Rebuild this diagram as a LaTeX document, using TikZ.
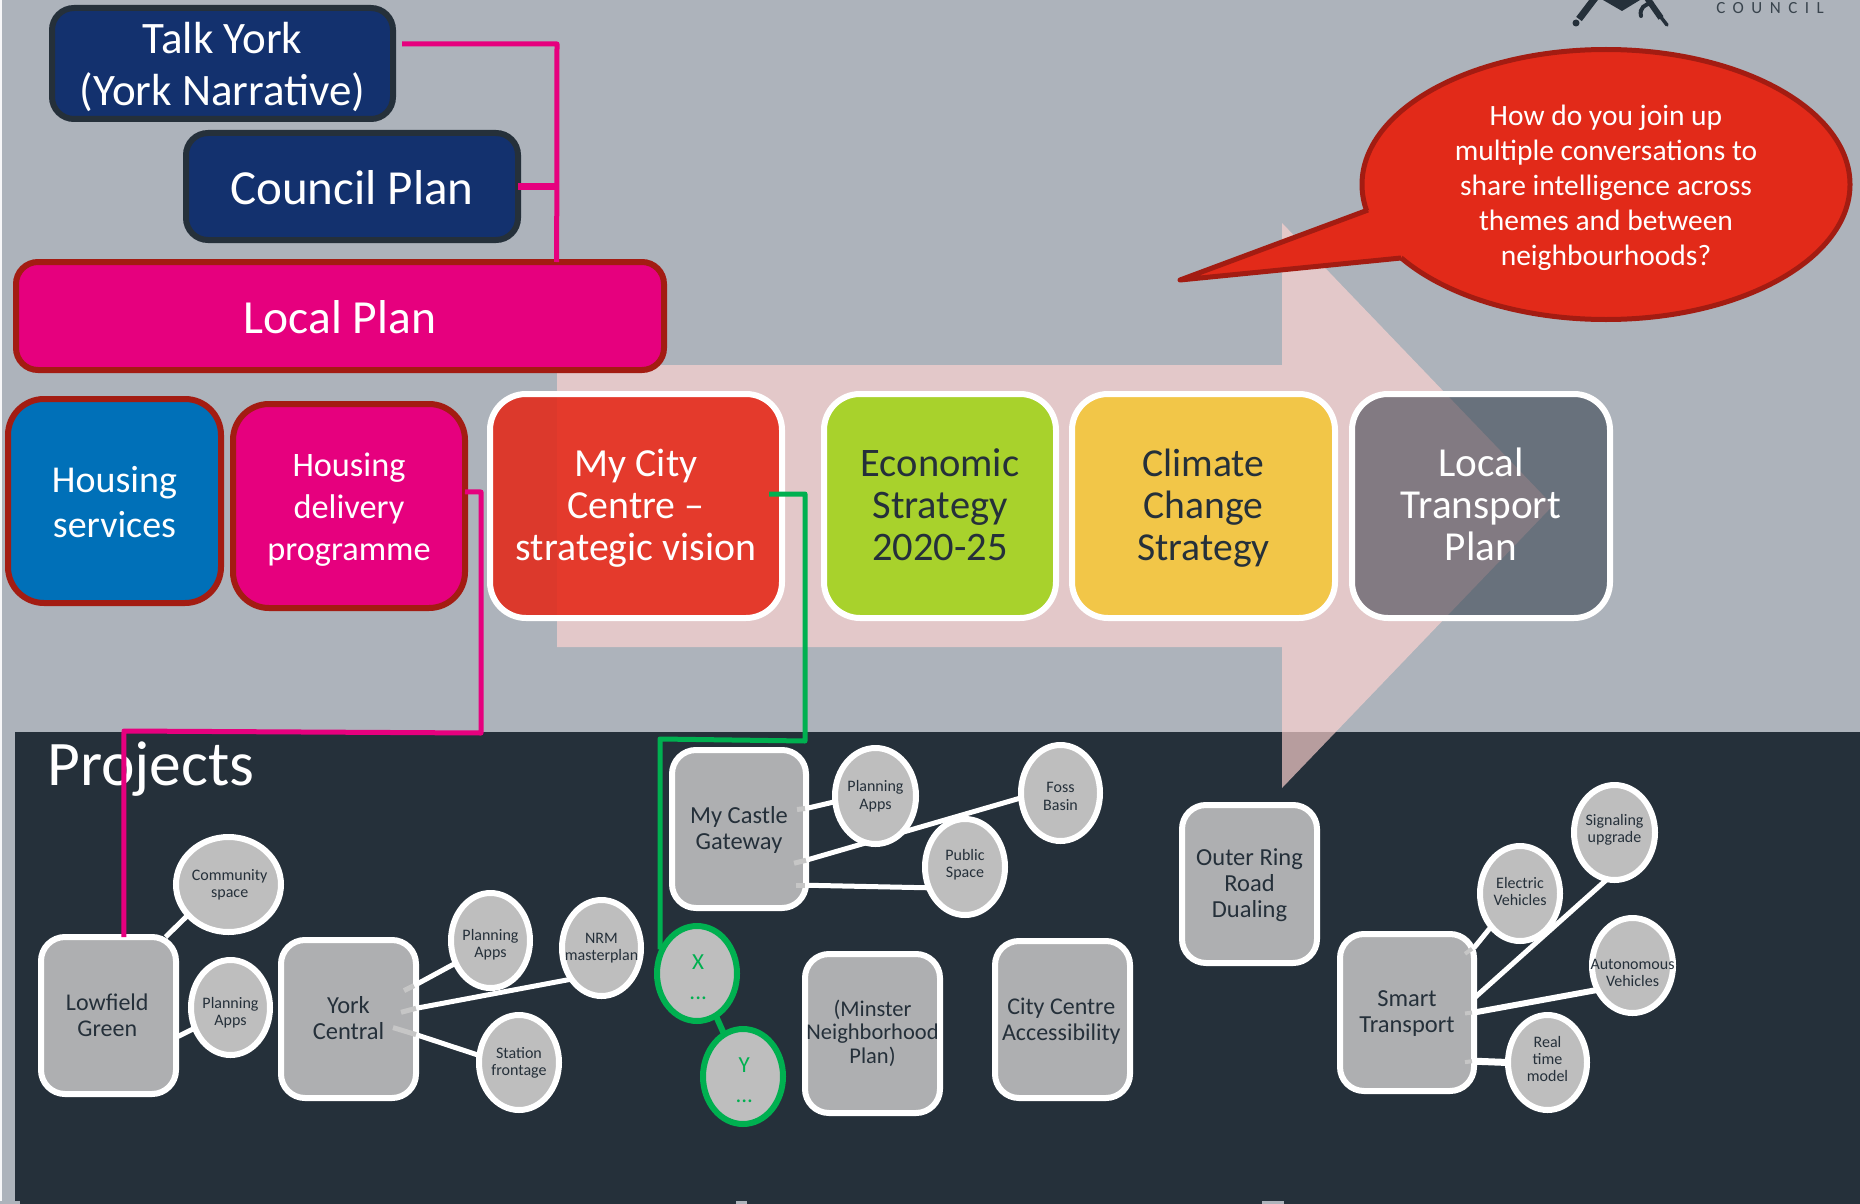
\documentclass[tikz,border=0pt]{standalone}
\usepackage{fontspec}
\usepackage{graphicx}
\setmainfont{Carlito}
\usetikzlibrary{shapes.geometric,calc}
\definecolor{slatebg}{HTML}{ADB3BB}
\definecolor{navyink}{HTML}{25303A}
\definecolor{navyfill}{HTML}{13316E}
\definecolor{magfill}{HTML}{E6007E}
\definecolor{brick}{HTML}{A31C12}
\definecolor{bluefill}{HTML}{0070B8}
\definecolor{redfill}{HTML}{E43A2C}
\definecolor{redshade}{HTML}{DC392C}
\definecolor{limefill}{HTML}{A8D22C}
\definecolor{yellowfill}{HTML}{F2C648}
\definecolor{slatefill}{HTML}{68717C}
\definecolor{slatetint}{HTML}{827A82}
\definecolor{arrowpink}{HTML}{FFD3D0}
\definecolor{boxgrey}{HTML}{AEAFB1}
\definecolor{ovalgrey}{HTML}{BEBEBE}
\definecolor{stubgrey}{HTML}{C6C6C6}
\definecolor{callred}{HTML}{E22A19}
\definecolor{linkgreen}{HTML}{00B050}
\pgfdeclarelayer{bglayer}
\pgfdeclarelayer{linklayer}
\pgfsetlayers{bglayer,linklayer,main}
\tikzset{
  base/.style={outer sep=0pt,inner sep=0pt,align=center,line width=6pt},
  bigbox/.style={base,rectangle,rounded corners=22pt,text=white},
  topbox/.style={base,rectangle,rounded corners=36pt},
  projbox/.style={base,rectangle,rounded corners=24pt,draw=white,fill=boxgrey,text=navyink,font=\fontsize{24.5}{26}\selectfont},
  oval/.style={base,ellipse,draw=white,fill=ovalgrey,text=navyink,font=\fontsize{16}{17.3}\selectfont},
  greenoval/.style={base,ellipse,draw=linkgreen,fill=ovalgrey,text=linkgreen,font=\fontsize{23}{29.5}\selectfont},
  wlink/.style={draw=white,line width=5pt},
  stub/.style={draw=stubgrey,line width=5pt},
  pinklink/.style={draw=magfill,line width=5pt,line join=round},
  greenlink/.style={draw=linkgreen,line width=5pt,line join=round},
}
\newcommand{\bx}[7]{\node[#1,minimum width={(#5-#3-6)*1pt},minimum height={(#6-#4-6)*1pt}] (#2) at ({(#3+#5)/2},{(#4+#6)/2}) {#7};}
% zero-size centred text block, moved down by the optional amount (pt)
\newcommand{\zc}[2][0]{\raisebox{\dimexpr-.25em-#1pt\relax}[0pt][0pt]{\makebox[0pt][c]{\begin{tabular}[c]{@{}c@{}}#2\end{tabular}}}}
\begin{document}
\begin{tikzpicture}[x=1pt,y=-1pt]
\useasboundingbox (0,0) rectangle (1860,1204);
\begin{pgfonlayer}{bglayer}
  \fill[slatebg] (0,0) rectangle (1860,1204);
  \fill[white!90!slatebg] (0,0) rectangle (2,1204);
  \fill[navyink] (15,732) rectangle (1860,1204);
  \fill[slatebg] (0,1201) rectangle (20,1204);
  \fill[slatebg] (736,1201) rectangle (747,1204);
  \fill[slatebg] (1262,1201) rectangle (1284,1204);
  \fill[arrowpink,opacity=.67] (557,365) -- (1282,365) -- (1282,223) -- (1553,505.5) -- (1282,788) -- (1282,647) -- (557,647) -- cycle;
  \fill[redfill,rounded corners=36pt] (490,394) rectangle (782,618);
  \begin{scope}
    \clip[rounded corners=36pt] (490,394) rectangle (782,618);
    \fill[redshade] (490,394) rectangle (557,618);
  \end{scope}
  \fill[slatefill,rounded corners=36pt] (1352,394) rectangle (1610,618);
  \begin{scope}
    \clip[rounded corners=36pt] (1352,394) rectangle (1610,618);
    \fill[slatetint] (1282,223) -- (1553,505.5) -- (1282,788) -- cycle;
  \end{scope}
\end{pgfonlayer}

% logo fragment
\fill[navyink] (1603,0) -- (1622,11) -- (1640,0) -- cycle;
\draw[navyink,line width=7pt] (1579,19) -- (1595,-2);
\fill[navyink] (1576,23) circle (3.5pt);
\draw[navyink,line width=6pt] (1647,-2) -- (1661,18);
\draw[navyink,line width=3.5pt,line cap=round] (1660,16) -- (1667,25);
\draw[navyink,line width=4pt,line cap=round] (1652,3) .. controls (1645,4) and (1639,8) .. (1641,16);

\node[inner sep=0pt,text=navyink!85!slatebg,font=\fontsize{17}{17}\selectfont\addfontfeature{LetterSpace=44}] (council) at (1770,8) {COUNCIL};

% plans
\bx{bigbox,draw=navyink,fill=navyfill,font=\fontsize{45}{52}\selectfont}{ty}{49}{5}{396}{122}{\zc[1]{Talk York\\(York Narrative)}}
\bx{bigbox,draw=navyink,fill=navyfill,font=\fontsize{49}{52}\selectfont}{cp}{183}{130}{521}{243}{\zc[2]{Council Plan}}
\bx{bigbox,draw=brick,fill=magfill,font=\fontsize{47.5}{52}\selectfont}{lp}{13}{259}{667}{373}{\zc[1]{Local Plan}}

% strategies
\bx{topbox,draw=brick,fill=bluefill,text=white,font=\fontsize{38}{45}\selectfont}{hs}{5}{396}{224}{606}{\zc[2]{Housing\\services}}
\bx{topbox,draw=brick,fill=magfill,text=white,font=\fontsize{34.3}{42}\selectfont}{hd}{230}{401}{468}{611}{\zc[2]{Housing\\delivery\\programme}}
\bx{topbox,draw=white,text=white,font=\fontsize{39.8}{42}\selectfont}{mc}{487}{391}{785}{621}{\zc[0.5]{My City\\Centre --\\strategic vision}}
\bx{topbox,draw=white,fill=limefill,text=navyink,font=\fontsize{40.5}{42}\selectfont}{es}{821}{391}{1059}{621}{\zc[0]{Economic\\Strategy\\2020-25}}
\bx{topbox,draw=white,fill=yellowfill,text=navyink,font=\fontsize{39.6}{42}\selectfont}{cc}{1069}{391}{1338}{621}{\zc[0]{Climate\\Change\\Strategy}}
\bx{topbox,draw=white,text=white,font=\fontsize{41.2}{42}\selectfont}{ltp}{1349}{391}{1613}{621}{\zc[0]{Local\\Transport\\Plan}}

% callout
\node[base,ellipse,draw=brick,fill=callred,text=white,line width=5pt,font=\fontsize{29.5}{35}\selectfont,minimum width=488pt,minimum height=270pt] (call) at (1606,184.5) {\zc[2.5]{How do you join up\\multiple conversations to\\share intelligence across\\themes and between\\neighbourhoods?}};
\coordinate (tailA) at (1368,210);
\coordinate (tailB) at (1401,258);
\coordinate (tailTip) at (1180,280);
\fill[callred] (tailA) -- (tailTip) -- (tailB) -- (1420,230) -- cycle;
\draw[brick,line width=5pt,line join=round] (tailA) -- (tailTip) -- (tailB);

% projects
\node[inner sep=0pt,anchor=base west,text=white,font=\fontsize{63.5}{63.5}\selectfont] (projects) at (47,785) {Projects};
\bx{projbox,font=\fontsize{24}{26}\selectfont}{low}{38}{934}{179}{1097}{\kern-2.4pt\zc[3.5]{Lowfield\\Green}}
\bx{projbox}{york}{278}{937}{419}{1101}{\zc[2.4]{York\\Central}}
\bx{projbox}{castle}{669}{747}{809}{911}{\zc[2]{My Castle\\Gateway}}
\bx{projbox,font=\fontsize{22.5}{23.5}\selectfont}{minster}{802}{951}{943}{1116}{\zc[1]{(Minster\\Neighborhood\\Plan)}}
\bx{projbox,font=\fontsize{24}{26}\selectfont}{access}{992}{938}{1133}{1101}{\kern-2.4pt\zc[3]{City Centre\\Accessibility}}
\bx{projbox}{ring}{1179}{802}{1320}{966}{\zc[2]{Outer Ring\\Road\\Dualing}}
\bx{projbox}{smart}{1337}{931}{1477}{1094}{\zc[2]{Smart\\Transport}}

\bx{oval}{comm}{173}{834}{284}{935}{\kern2.4pt\zc[1]{Community\\space}}
\bx{oval}{pa}{188}{957}{273}{1058}{\zc[6.5]{Planning\\Apps}}
\bx{oval}{pb}{448}{890}{533}{991}{\zc[5]{Planning\\Apps}}
\bx{oval}{nrm}{559}{897}{644}{999}{\zc[1]{NRM\\masterplan}}
\bx{oval}{stn}{476}{1012}{562}{1113}{\zc[1.5]{Station\\frontage}}
\bx{oval}{pc}{832}{745}{919}{847}{\zc[1.5]{Planning\\Apps}}
\bx{oval}{foss}{1018}{742}{1103}{844}{\zc[5.5]{Foss\\Basin}}
\bx{oval}{pub}{922}{816}{1008}{918}{\zc[-1]{Public\\Space}}
\bx{oval}{ev}{1477}{843}{1563}{944}{\zc{Electric\\Vehicles}}
\bx{oval}{sig}{1571}{782}{1658}{883}{\zc[-1.5]{Signaling\\upgrade}}
\bx{oval}{auto}{1589}{915}{1676}{1016}{\zc[9]{Autonomous\\Vehicles}}
\bx{oval}{real}{1505}{1012}{1590}{1113}{\zc[-1]{Real\\time\\model}}
\bx{greenoval}{xo}{654}{923}{740}{1024}{\kern2.4pt\zc[5.5]{X\\...}}
\bx{greenoval}{yo}{700}{1026}{786}{1127}{\kern2.4pt\zc[5.5]{Y\\...}}

% white links behind the nodes
\begin{pgfonlayer}{linklayer}
  \draw[wlink] (low.54) -- (comm.217);
  \draw[wlink] (low.-18) -- (pa.210);
  \draw[wlink] (york.27) -- (pb.213);
  \draw[wlink] (york.9) -- (nrm.226);
  \draw[wlink] (york.-13) -- (stn.170);
  \draw[wlink] (castle.17) -- (pc.188);
  \draw[wlink] (castle.-25) -- (foss.187);
  \draw[wlink] (castle.-40) -- (pub.210);
  \draw[wlink] (smart.44) -- (ev.229);
  \draw[wlink] (smart.12) -- (sig.261);
  \draw[wlink,line width=6pt] (smart.east) -- (auto.215);
  \draw[wlink,line width=7pt] (smart.-36) -- (real.west);
  \draw[linkgreen,line width=6pt] (xo) -- (yo);
\end{pgfonlayer}

% faint stubs inside the boxes
\draw[stub] (york.27) ++(-12,6) -- ++(10,-5);
\draw[stub] (york.9) ++(-15,4) -- ++(15,-4);
\draw[stub] (york.-13) ++(-23,-7) -- ++(23,7);
\draw[stub] (castle.17) ++(-9,1) -- ++(8,-1);
\draw[stub] (castle.-25) ++(-12,3) -- ++(12,-3);
\draw[stub] (castle.-40) ++(-10,0) -- ++(9,0);
\draw[stub,line width=4pt] (smart.44) ++(-9,6) -- ++(7,-5);
\draw[stub,line width=4pt] (smart.east) ++(-9,1) -- ++(7,-1);
\draw[stub,line width=4pt] (smart.-36) ++(-9,1) -- ++(7,-1);

% coloured connectors
\coordinate (tyout) at (402,44);
\coordinate (trunk) at (557,44);
\draw[pinklink] (tyout) -- (trunk) -- (lp.14);
\draw[magfill,line width=7pt] (cp.east) -- (cp.east -| trunk);
\coordinate (hdbendA) at (481,492);
\coordinate (hdbendB) at (481,733);
\coordinate (hdbendC) at (124,731);
\draw[pinklink] (hd.7) -- (hdbendA) -- (hdbendB) -- (hdbendC) -- (low.79);
\coordinate (mcstart) at (769,494);
\coordinate (mcbendA) at (805,494);
\coordinate (mcbendB) at (805,741);
\coordinate (mcbendC) at (660,739);
\draw[greenlink] (mcstart) -- (mcbendA) -- (mcbendB) -- (mcbendC) -- (mcbendC |- xo.145);
\end{tikzpicture}
\end{document}
